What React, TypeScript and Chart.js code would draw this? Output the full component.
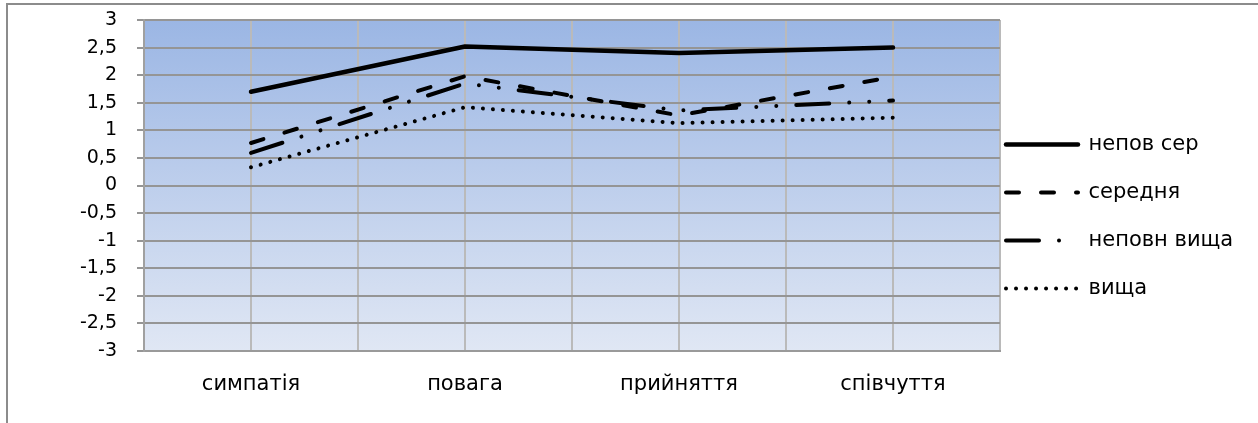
import React, { useEffect, useRef } from "react";
import { Chart, registerables } from "chart.js";

Chart.register(...registerables);

const categories = ["симпатія", "повага", "прийняття", "співчуття"];
const seriesNames = ["непов сер", "середня", "неповн вища", "вища"];
const nepovSer = [1.7, 2.52, 2.4, 2.5];
const serednya = [0.77, 1.98, 1.27, 1.97];
const nepovnVyshcha = [0.59, 1.85, 1.36, 1.54];
const vyshcha = [0.33, 1.42, 1.13, 1.23];
const yMin = -3;
const yMax = 3;
const yStep = 0.5;

const FONT = "'DejaVu Sans', sans-serif";

const plotBg = {
  id: "plotBg",
  beforeDraw(chart: any) {
    const { ctx, chartArea: a } = chart;
    if (!a) return;
    const g = ctx.createLinearGradient(0, a.top, 0, a.bottom);
    g.addColorStop(0, "#9bb6e4");
    g.addColorStop(1, "#e0e7f4");
    ctx.save();
    ctx.fillStyle = g;
    ctx.fillRect(a.left, a.top, a.right - a.left, a.bottom - a.top);
    ctx.restore();
  },
};

const legendShift = {
  id: "legendShift",
  afterLayout(chart: any) {
    const l = chart.legend;
    if (!l) return;
    l.left -= 21;
    l.right -= 21;
  },
};

export default function App() {
  const ref = useRef<HTMLCanvasElement | null>(null);

  useEffect(() => {
    if (!ref.current) return;
    const toPts = (arr: number[]) => arr.map((v, i) => ({ x: i, y: v }));
    const common = {
      borderColor: "#000",
      backgroundColor: "#000",
      pointRadius: 0,
      pointHoverRadius: 0,
      tension: 0,
      fill: false,
      borderCapStyle: "round",
      borderJoinStyle: "round",
    };
    const chart = new Chart(ref.current, {
      type: "line",
      data: {
        datasets: [
          { ...common, label: seriesNames[0], data: toPts(nepovSer), borderWidth: 4.5, borderDash: [] },
          { ...common, label: seriesNames[1], data: toPts(serednya), borderWidth: 4, borderDash: [13, 22] },
          { ...common, label: seriesNames[2], data: toPts(nepovnVyshcha), borderWidth: 4, borderDash: [33, 20, 0.01, 20, 0.01, 20] },
          { ...common, label: seriesNames[3], data: toPts(vyshcha), borderWidth: 4, borderDash: [0.01, 10] },
        ] as any,
      },
      options: {
        animation: false,
        responsive: false,
        events: [],
        layout: { padding: { top: 10, left: 0, right: 0, bottom: 0 } },
        font: { family: FONT },
        scales: {
          x: {
            type: "linear",
            min: -0.5,
            max: categories.length - 0.5,
            afterFit: (s: any) => {
              s.height = 72;
            },
            ticks: {
              stepSize: 0.5,
              autoSkip: false,
              maxRotation: 0,
              padding: 21,
              color: "#000",
              font: { family: FONT, size: 21 },
              callback: (v: any) => (Number.isInteger(v) ? categories[v] : ""),
            },
            grid: { color: "#bababa", lineWidth: 2, drawTicks: false },
            border: { display: true, color: "#9a9a9a", width: 2 },
          },
          y: {
            type: "linear",
            min: yMin,
            max: yMax,
            afterFit: (s: any) => {
              s.width = 144;
              s.paddingTop = 20;
              s.paddingBottom = 12;
            },
            ticks: {
              stepSize: yStep,
              padding: 20,
              color: "#000",
              font: { family: FONT, size: 19 },
              callback: (v: any) => String(v).replace(".", ","),
            },
            grid: { color: "#959595", lineWidth: 2, tickLength: 7, drawTicks: true },
            border: { display: true, color: "#a0a0a0", width: 2 },
          },
        },
        plugins: {
          tooltip: { enabled: false },
          title: { display: false },
          legend: {
            position: "right",
            maxWidth: 258,
            labels: {
              usePointStyle: true,
              pointStyleWidth: 72,
              padding: 27,
              color: "#000",
              font: { family: FONT, size: 21 },
              generateLabels: (c: any) =>
                c.data.datasets.map((ds: any, i: number) => ({
                  text: ds.label,
                  fillStyle: "#000",
                  strokeStyle: "#000",
                  fontColor: "#000",
                  lineWidth: ds.borderWidth,
                  lineDash: ds.borderDash || [],
                  lineCap: "round",
                  lineJoin: "round",
                  pointStyle: "line",
                  hidden: false,
                  datasetIndex: i,
                })),
            },
          },
        },
      } as any,
      plugins: [plotBg, legendShift],
    });
    return () => chart.destroy();
  }, []);

  return (
    <div style={{ position: "absolute", left: 0, top: 0, width: 1258, height: 423, background: "#fff", overflow: "hidden" }}>
      <div
        style={{
          position: "absolute",
          left: 6,
          top: 3,
          width: 1252,
          height: 420,
          borderTop: "2px solid #8c8c8c",
          borderLeft: "2px solid #8c8c8c",
          boxSizing: "border-box",
        }}
      />
      <canvas ref={ref} width={1258} height={423} style={{ position: "absolute", left: 0, top: 0, display: "block" }} />
    </div>
  );
}
